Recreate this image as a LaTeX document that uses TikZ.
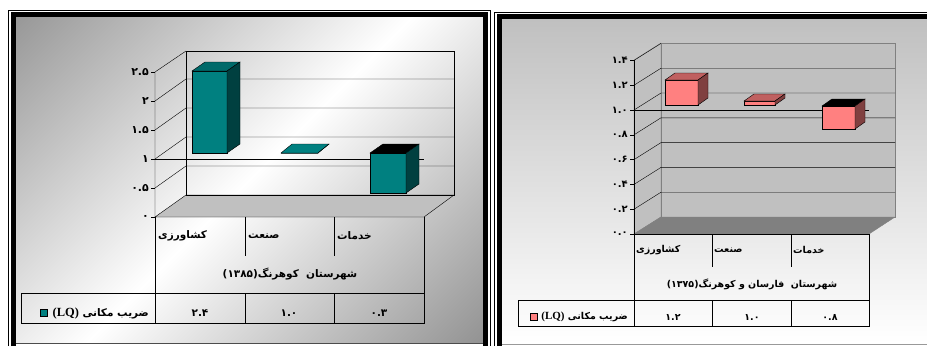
\documentclass[tikz,border=0pt]{standalone}
\usepackage{fontspec}
\setmainfont{Liberation Serif}
\newfontfamily\arabicfont[Script=Arabic]{DejaVu Sans}
\TeXXeTstate=1
\usetikzlibrary{positioning}

\definecolor{tealfront}{HTML}{008080}
\definecolor{tealtop}{HTML}{006A6A}
\definecolor{tealside}{HTML}{004040}
\definecolor{pinkfront}{HTML}{FF8080}
\definecolor{pinktop}{HTML}{C06060}
\definecolor{pinkside}{HTML}{804040}
\definecolor{wallgray}{HTML}{C0C0C0}
\definecolor{floorgray}{HTML}{808080}
\pgfdeclarehorizontalshading{panelshade}{100bp}{color(0bp)=(black!40); color(15bp)=(black!40); color(50bp)=(white); color(85bp)=(black!42); color(100bp)=(black!42)}

% 3D bar: x left, x right, y top, y bottom, depth dx, depth dy, front, top, side
\newcommand{\cbar}[9]{%
  \filldraw[fill=#7] (#1,#3) rectangle (#2,#4);
  \filldraw[fill=#8] (#1,#3) -- ++(#5,#6) -- ++({#2-#1},0) -- (#2,#3) -- cycle;
  \filldraw[fill=#9] (#2,#3) -- ++(#5,#6) -- ++(0,{#4-#3}) -- (#2,#4) -- cycle;
}

\begin{document}
\begin{tikzpicture}[x=1bp, y=-1bp,
    ticka/.style={anchor=east, inner sep=0pt, font=\arabicfont\bfseries\fontsize{11}{13}\selectfont},
    tickb/.style={anchor=east, inner sep=0pt, font=\arabicfont\bfseries\fontsize{10}{12}\selectfont},
    cella/.style={inner sep=0pt, font=\arabicfont\bfseries\fontsize{10.5}{12}\selectfont},
    cellb/.style={inner sep=0pt, font=\arabicfont\bfseries\fontsize{9.5}{11}\selectfont},
    legkey/.style={draw, inner sep=0pt, minimum size=7bp}]
    \path[use as bounding box] (0,0) rectangle (927,346);

    % Panel backgrounds and frames
    \shade[shading=panelshade, shading angle=-45] (15,17) rectangle (483,343);
    \shade[top color=wallgray, bottom color=white] (502,19) rectangle (927,343);
    \draw[black!70] (15,343) -- (483,343);
    \draw[black!40] (502,344.5) -- (927,344.5);
    \draw (8,346) -- (8,10) -- (490.5,10) -- (490.5,346);
    \draw[line width=5bp] (13,346) -- (13,14.5) -- (485.5,14.5) -- (485.5,346);
    \draw (494,346) -- (494,12) -- (927,12);
    \draw[line width=5bp] (499.5,346) -- (499.5,16.5) -- (927,16.5);

    % Left chart: floor, walls and grid
    \filldraw[fill=wallgray] (155,217) -- (424,217) -- (454,195) -- (186,195) -- cycle;
    \draw (186,195) rectangle (454,51);
    \draw (155,217) -- (155,72) -- (186,51);
    \foreach \v in {0.5,1,1.5,2}
        \draw (155,{217-58*\v}) -- (186,{195-58*\v}) -- (454,{195-58*\v});
    \foreach \v in {0,0.5,...,2.5}
        \draw (151,{217-58*\v}) -- (155,{217-58*\v});
    \foreach \v/\t [count=\i] in {0/۰, 0.5/۰.۵, 1/۱, 1.5/۱.۵, 2/۲, 2.5/۲.۵}
        \node[ticka] (lta\i) at (149,{217-58*\v}) {\t};
    \draw (155,159) -- (424,159);

    % Left chart: bars
    \cbar{192}{227}{71}{153}{13}{-9}{tealfront}{tealtop}{tealside}
    \cbar{281}{318}{153}{153}{11}{-9}{tealfront}{tealfront}{tealside}
    \cbar{370}{406}{153}{193}{13}{-9}{tealfront}{black}{tealside}

    % Left chart: data table
    \draw (155,217) -- (155,323) (424,217) -- (424,323);
    \draw (245,217) -- (245,256) (334,217) -- (334,256);
    \draw (21,293) rectangle (424,323);
    \draw (245,293) -- (245,323) (334,293) -- (334,323);
    \node[cella, anchor=west] (catA1) at (158,236) {\beginR کشاورزی\endR};
    \node[cella, anchor=west] (catA2) at (248,236) {\beginR صنعت\endR};
    \node[cella, anchor=west] (catA3) at (337,236) {\beginR خدمات\endR};
    \node[cella] (titleA) at (290,274) {\beginR شهرستان\ \ کوهرنگ\beginL(۱۳۸۵)\endL\endR};
    \node[cella, anchor=east] (lqA) at (149,313) {\beginR ضریب مکانی \beginL\rmfamily\fontsize{12.5}{14}\selectfont(LQ)\endL\endR};
    \node[legkey, fill=tealfront, left=5bp of lqA] (keyA) {};
    \node[cella] (valA1) at (200,313) {۲.۴};
    \node[cella] (valA2) at (289,313) {۱.۰};
    \node[cella] (valA3) at (379,313) {۰.۳};

    % Right chart: floor, walls and grid
    \filldraw[fill=wallgray, draw=floorgray] (634,234) -- (634,60) -- (661,43) -- (661,217) -- cycle;
    \filldraw[fill=wallgray, draw=floorgray] (661,217) rectangle (895,43);
    \filldraw[fill=floorgray, draw=floorgray] (634,234) -- (869,234) -- (895,217) -- (661,217) -- cycle;
    \foreach \v in {0.2,0.4,...,1.3}
        \draw (634,{234-124*\v}) -- (661,{217-124*\v}) -- (895,{217-124*\v});
    \draw (634,60.4) -- (661,43.4);
    \draw (634,234) -- (634,60.4);
    \foreach \v in {0,0.2,...,1.5}
        \draw (630,{234-124*\v}) -- (634,{234-124*\v});
    \foreach \v/\t [count=\i] in {0/۰.۰, 0.2/۰.۲, 0.4/۰.۴, 0.6/۰.۶, 0.8/۰.۸, 1/۱.۰, 1.2/۱.۲, 1.4/۱.۴}
        \node[tickb] (ltb\i) at (628,{234-124*\v}) {\t};
    \draw (634,110) -- (869,110);

    % Right chart: bars
    \cbar{665}{698}{80}{105}{10}{-7}{pinkfront}{pinktop}{pinkside}
    \cbar{744}{775}{101}{105}{10}{-7}{pinkfront}{pinktop}{pinkside}
    \cbar{822}{855}{106}{129}{10}{-7}{pinkfront}{black}{pinkside}

    % Right chart: data table
    \draw (634,234) -- (869,234);
    \draw (634,234) -- (634,326) (869,234) -- (869,326);
    \draw (712,234) -- (712,267) (791,234) -- (791,267);
    \draw (518,300) rectangle (869,326);
    \draw (712,300) -- (712,326) (791,300) -- (791,326);
    \node[cellb, anchor=west] (catB1) at (636,250) {\beginR کشاورزی\endR};
    \node[cellb, anchor=west] (catB2) at (714,250) {\beginR صنعت\endR};
    \node[cellb, anchor=west] (catB3) at (793,250) {\beginR خدمات\endR};
    \node[cellb] (titleB) at (752,284) {\beginR شهرستان\ \ فارسان و کوهرنگ\beginL(۱۳۷۵)\endL\endR};
    \node[cellb, anchor=east] (lqB) at (628,317) {\beginR ضریب مکانی \beginL\rmfamily\fontsize{11}{13}\selectfont(LQ)\endL\endR};
    \node[legkey, fill=pinkfront, left=4bp of lqB] (keyB) {};
    \node[cellb] (valB1) at (673,317) {۱.۲};
    \node[cellb] (valB2) at (752,317) {۱.۰};
    \node[cellb] (valB3) at (830,317) {۰.۸};
\end{tikzpicture}
\end{document}
